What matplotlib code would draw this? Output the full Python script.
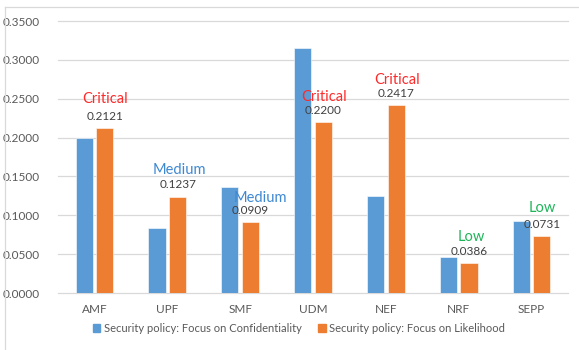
import numpy as np
import matplotlib.pyplot as plt
from matplotlib.lines import Line2D

plt.rcParams['font.family'] = ['Lato', 'DejaVu Sans']

functions = ['AMF', 'UPF', 'SMF', 'UDM', 'NEF', 'NRF', 'SEPP']
confidentiality = [0.2000, 0.0840, 0.1360, 0.3150, 0.1250, 0.0460, 0.0930]
likelihood = [0.2121, 0.1237, 0.0909, 0.2200, 0.2417, 0.0386, 0.0731]
severity = ['Critical', 'Medium', 'Medium', 'Critical', 'Critical', 'Low', 'Low']
yticks = [0.0, 0.05, 0.10, 0.15, 0.20, 0.25, 0.30, 0.35]

sev_colors = {'Critical': '#FF2A2A', 'Medium': '#3E88D2', 'Low': '#1FB45A'}
# pixel offsets of the severity word above each orange bar
sev_dy = [29, 27, 24, 25, 25, 26, 28]
sev_dx = [0, 2, 10, 1, 1, 2, 0]

blue = '#5B9BD5'
orange = '#ED7D31'
grid = '#D9D9D9'
text_gray = '#595959'

fig = plt.figure(figsize=(5.79, 3.5), dpi=100)
ax = fig.add_axes([58 / 579, 1 - 293 / 350, 510 / 579, 272 / 350])

x = np.arange(len(functions))
w = 0.235
off = 0.142
ax.bar(x - off, confidentiality, w, color=blue, edgecolor='white', linewidth=0.4, zorder=3)
ax.bar(x + off, likelihood, w, color=orange, edgecolor='white', linewidth=0.4, zorder=3)

px = 0.72  # points per pixel at dpi 100
for i, v in enumerate(likelihood):
    ax.annotate('%.4f' % v, (x[i] + off, v), xytext=(0, 12 * px), textcoords='offset points',
                ha='center', va='center', fontsize=8.5, color='#404040', zorder=5)
    ax.annotate(severity[i], (x[i] + off, v), xytext=(sev_dx[i] * px, sev_dy[i] * px),
                textcoords='offset points', ha='center', va='center', fontsize=10.5,
                color=sev_colors[severity[i]], zorder=5)

ax.set_xlim(-0.5, len(functions) - 0.5)
ax.set_ylim(0, 0.35)
ax.set_yticks(yticks)
ax.set_yticklabels(['%.4f' % t for t in yticks])
ax.set_xticks(x)
ax.set_xticklabels(functions)
ax.tick_params(axis='both', length=0, colors=text_gray, labelsize=8.5)
ax.tick_params(axis='y', pad=13)
ax.tick_params(axis='x', pad=8)
for s in ax.spines.values():
    s.set_visible(False)
ax.grid(axis='y', color=grid, linewidth=0.9, zorder=0)
ax.set_axisbelow(True)
for gl in ax.get_ygridlines():
    gl.set_clip_on(False)

handles = [plt.Rectangle((0, 0), 1, 1, color=blue), plt.Rectangle((0, 0), 1, 1, color=orange)]
fig.legend(handles, ['Security policy: Focus on Confidentiality', 'Security policy: Focus on Likelihood'],
           loc='center', bbox_to_anchor=(299 / 579, 1 - 328 / 350), ncol=2, frameon=False,
           fontsize=8.0, handlelength=0.7, handleheight=0.7, handletextpad=0.3,
           columnspacing=1.5, labelcolor=text_gray)

# outer chart border
fig.add_artist(Line2D([5 / 579, 5 / 579], [0, 1 - 7 / 350], color=grid, linewidth=0.9))
fig.add_artist(Line2D([5 / 579, 1], [1 - 7 / 350, 1 - 7 / 350], color=grid, linewidth=0.9))

fig.savefig('out.png', dpi=100, facecolor='white')
